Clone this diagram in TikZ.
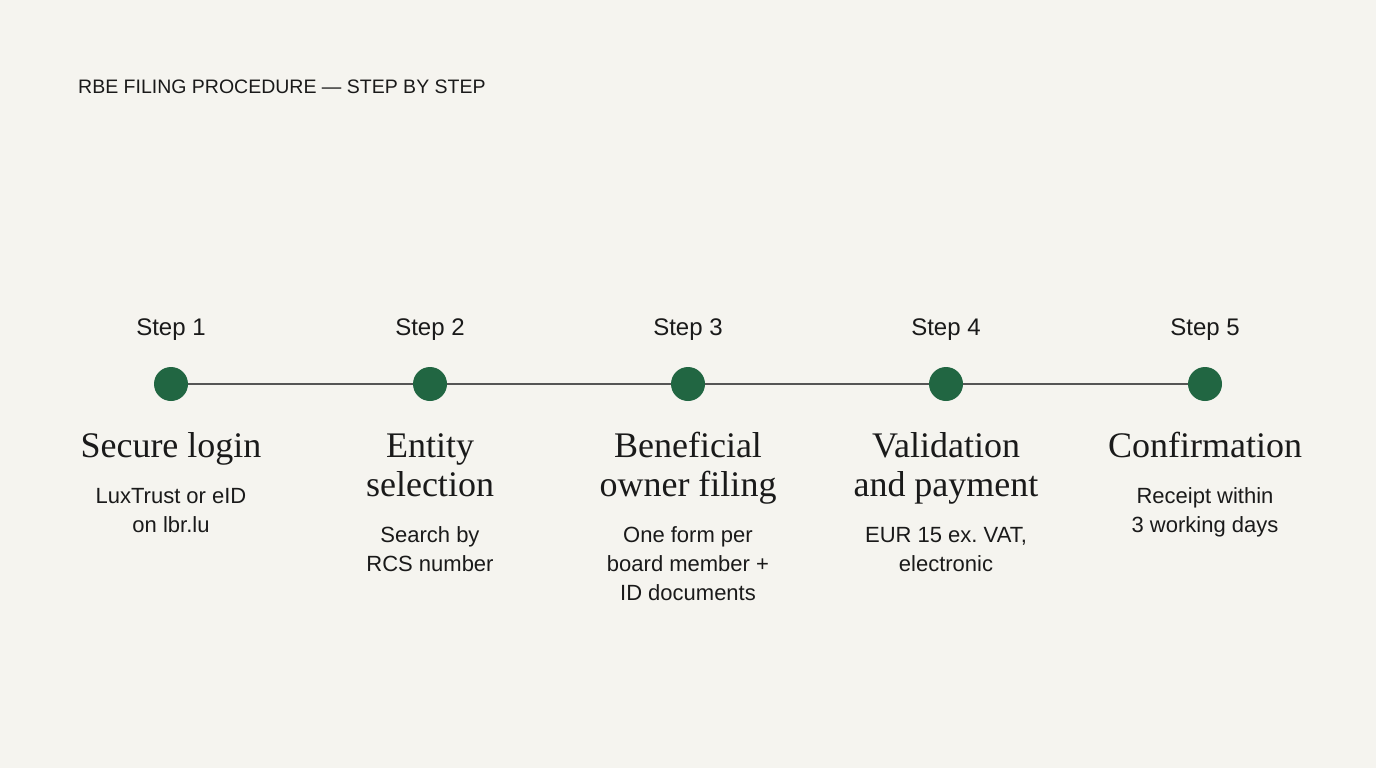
\documentclass[tikz,border=0pt]{standalone}
\usepackage{fontspec}
\setmainfont{Liberation Serif}
\newfontfamily\sansf{Liberation Sans}
\frenchspacing
\definecolor{bg}{HTML}{F5F4EF}
\definecolor{dotgreen}{HTML}{216642}
\definecolor{ink}{HTML}{1A1A1A}
\definecolor{railgray}{HTML}{555555}
\begin{document}
\begin{tikzpicture}[x=1pt,y=-1pt,
  titletext/.style={anchor=base west, inner sep=0, font=\sansf\fontsize{19.5}{23}\selectfont, text=ink},
  steplabel/.style={anchor=base, inner sep=0, font=\sansf\fontsize{24}{28}\selectfont, text=ink},
  dot/.style={circle, fill=dotgreen, minimum size=34pt, inner sep=0},
  heading/.style={anchor=base, inner sep=0, align=center, font=\fontsize{36}{39}\selectfont, text=ink},
  body/.style={anchor=base, inner sep=0, align=center, font=\sansf\fontsize{22}{29}\selectfont, text=ink},
  track/.style={draw=railgray, line width=1.5pt}]
\fill[bg] (0,0) rectangle (1376,768);
\useasboundingbox (0,0) rectangle (1376,768);

\node[titletext] (title) at (78,93) {RBE FILING PROCEDURE — STEP BY STEP};

\foreach \i/\x in {1/171,2/430,3/688,4/946,5/1205}{
  \node[steplabel] (s\i) at (\x,335) {Step \i};
  \node[dot] (d\i) at (\x,384) {};
}
\draw[track] (d1) -- (d2);
\draw[track] (d2) -- (d3);
\draw[track] (d3) -- (d4);
\draw[track] (d4) -- (d5);

% multi-line nodes: base anchor is the baseline of the last line
\node[heading] (h1) at (171,457) {Secure login};
\node[heading] (h2) at (430,496) {Entity\\selection};
\node[heading] (h3) at (688,496) {Beneficial\\owner filing};
\node[heading] (h4) at (946,496) {Validation\\and payment};
\node[heading] (h5) at (1205,457) {Confirmation};

\node[body] (b1) at (171,532) {LuxTrust or eID\\on lbr.lu};
\node[body] (b2) at (430,571) {Search by\\RCS number};
\node[body] (b3) at (688,600) {One form per\\board member +\\ID documents};
\node[body] (b4) at (946,571) {EUR 15 ex. VAT,\\electronic};
\node[body] (b5) at (1205,532) {Receipt within\\3 working days};
\end{tikzpicture}
\end{document}
